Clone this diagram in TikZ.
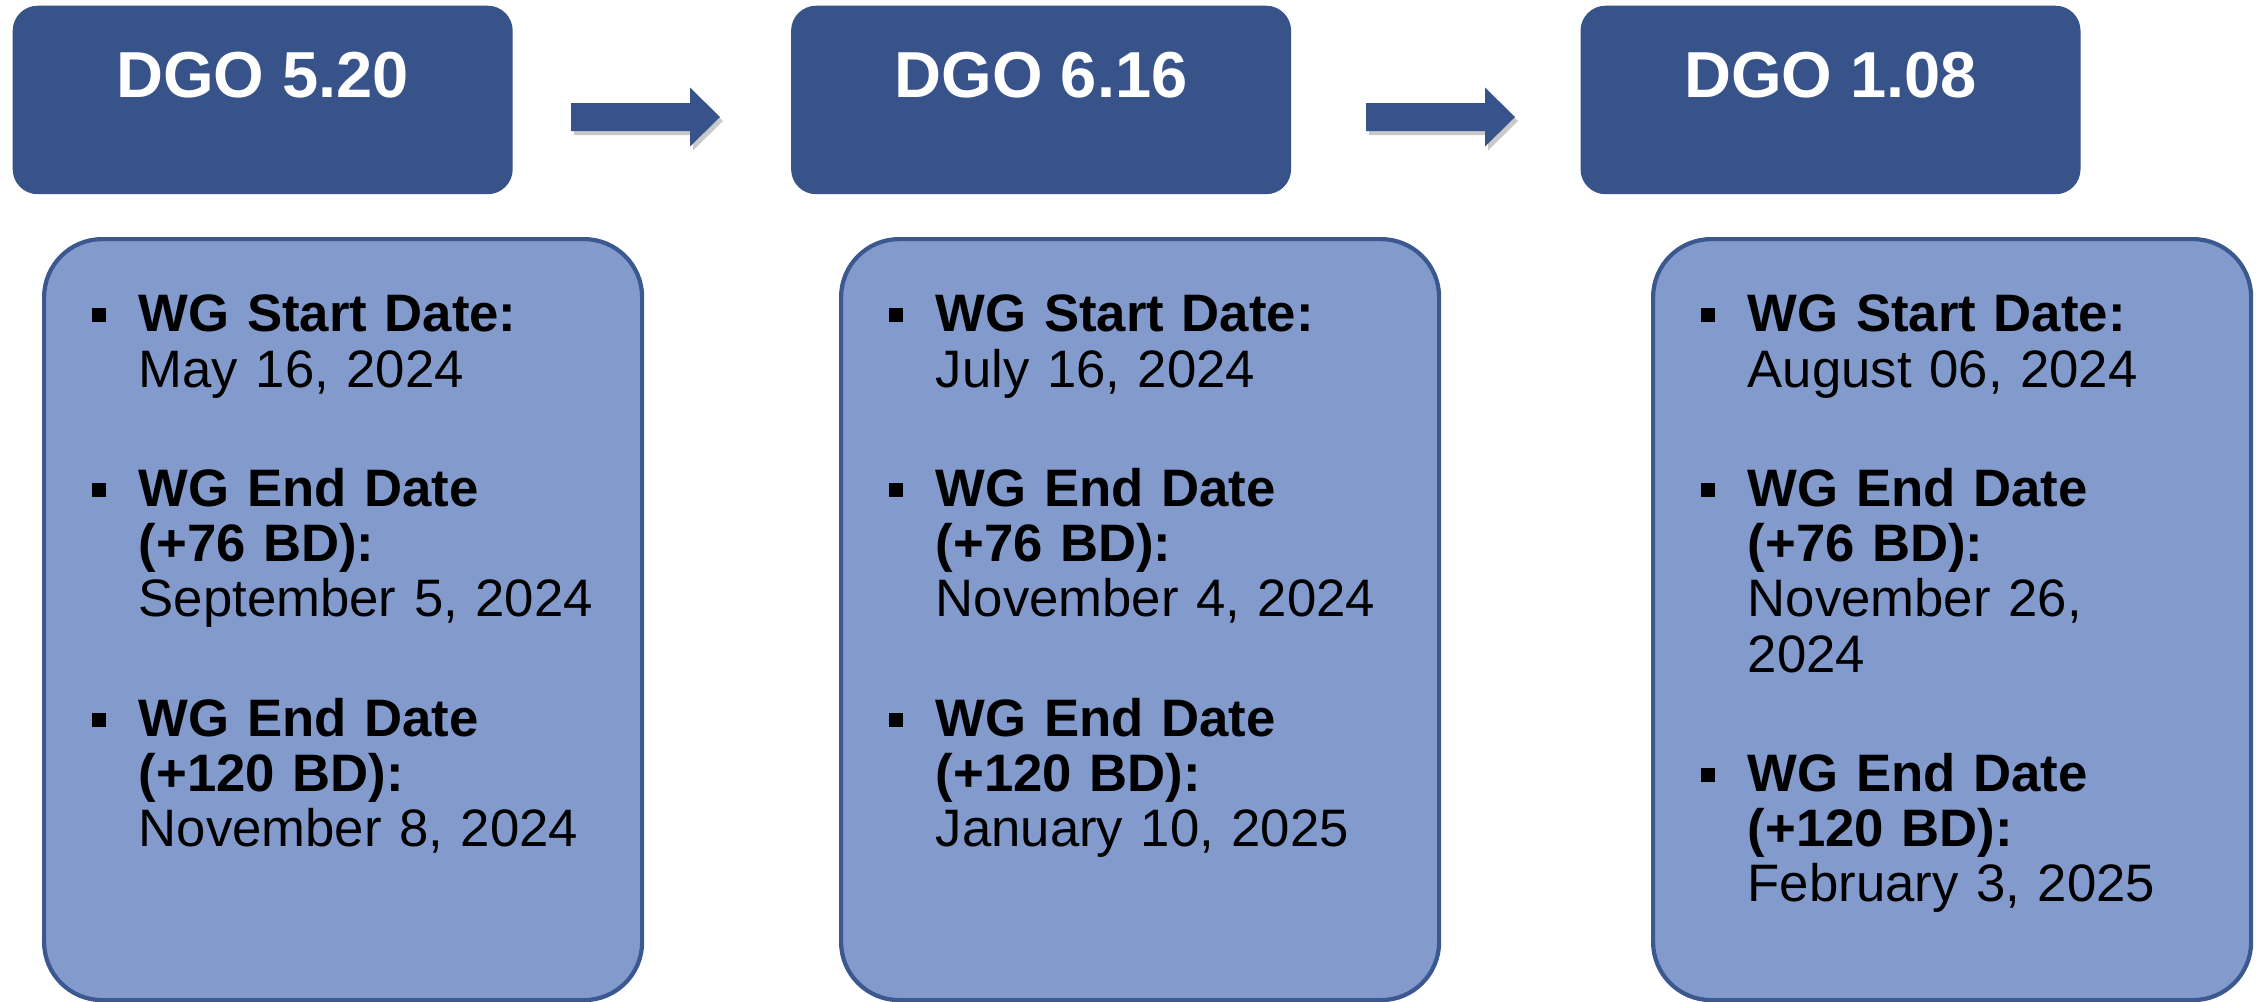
\documentclass[tikz,border=0pt]{standalone}
\usepackage{fontspec}
\setmainfont{Liberation Sans}
\usepackage{tikz}
\usetikzlibrary{positioning, shapes, shadows}

\definecolor{hdrblue}{RGB}{55,83,137}
\definecolor{boxfill}{RGB}{130,155,204}
\definecolor{boxedge}{RGB}{60,88,145}

\newenvironment{wglist}{\begin{list}{\rule[2.8pt]{4pt}{4pt}}{%
  \setlength{\leftmargin}{0.47cm}\setlength{\labelwidth}{0.14cm}%
  \setlength{\labelsep}{0.33cm}\setlength{\itemsep}{18.3pt}%
  \setlength{\parsep}{0pt}\setlength{\topsep}{0pt}\setlength{\partopsep}{0pt}}}%
  {\end{list}}

\newcommand{\wgdates}[3]{%
\begin{wglist}
\item {\bfseries WG Start Date:}\\#1
\item {\bfseries WG End Date\\(+76 BD):}\\#2
\item {\bfseries WG End Date\\(+120 BD):}\\#3
\end{wglist}}

\tikzset{
  hdr/.style={rectangle, rounded corners=0.25cm, fill=hdrblue, text=white,
    minimum width=5cm, minimum height=1.885cm, inner ysep=0pt,
    text height=0.92cm, text depth=0.965cm,
    font=\bfseries\fontsize{18.5}{21}\selectfont},
  wgbox/.style={rectangle, rounded corners=0.58cm, draw=boxedge, line width=1.2pt,
    fill=boxfill, minimum width=5.98cm, minimum height=7.61cm, anchor=north west},
  datebox/.style={anchor=north west, inner sep=0pt, text width=5.3cm, align=left,
    font=\fontsize{15}{15.7}\selectfont},
  fatarrow/.pic={\fill[hdrblue, drop shadow={shadow xshift=0.03cm, shadow yshift=-0.04cm,
      opacity=0.35, fill=black!60}]
    (0,0.14) -- (1.19,0.14) -- (1.19,0.295) -- (1.49,0) -- (1.19,-0.295)
    -- (1.19,-0.14) -- (0,-0.14) -- cycle;}
}

\begin{document}
\begin{tikzpicture}

\path[use as bounding box, fill=white] (0,0) rectangle (22.57,-10.01);

% DGO headers
\node[hdr, anchor=north west] (h1) at (0.12,-0.05) {DGO 5.20};
\node[hdr, right=2.77cm of h1] (h2) {DGO 6.16};
\node[hdr, right=2.88cm of h2] (h3) {DGO 1.08};

\pic at (5.71,-1.17) {fatarrow};
\pic at (13.66,-1.17) {fatarrow};

% WG dates
\node[wgbox] (b1) at (0.42,-2.37) {};
\node[wgbox] (b2) at (8.39,-2.37) {};
\node[wgbox] (b3) at (16.51,-2.37) {};

\node[datebox] (d1) at ([xshift=0.49cm, yshift=-0.39cm]b1.north west)
  {\wgdates{May 16, 2024}{September 5, 2024}{November 8, 2024}};
\node[datebox] (d2) at ([xshift=0.49cm, yshift=-0.39cm]b2.north west)
  {\wgdates{July 16, 2024}{November 4, 2024}{January 10, 2025}};
\node[datebox] (d3) at ([xshift=0.49cm, yshift=-0.39cm]b3.north west)
  {\wgdates{August 06, 2024}{November 26,\\2024}{February 3, 2025}};

\end{tikzpicture}
\end{document}
